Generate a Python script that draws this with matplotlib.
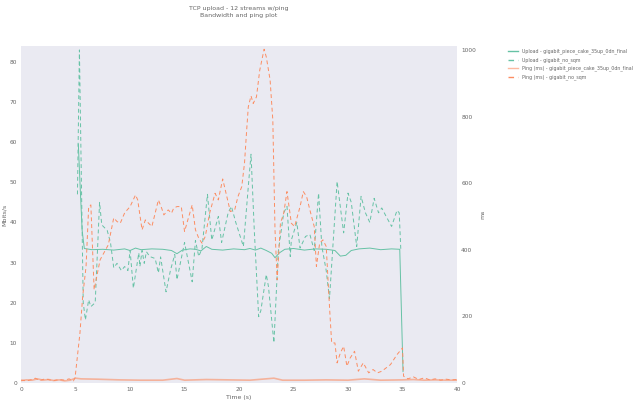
import numpy as np
import matplotlib
matplotlib.use('Agg')
import matplotlib.pyplot as plt

# upload, gigabit_piece_cake_35up_0dn_final (Mbits/s)
up_sqm_t = [5.25, 5.4, 5.6, 5.8, 6.5, 7.5, 8.5, 9.5, 10.0, 10.5, 11.0, 12.0, 13.0, 13.8, 14.3, 14.8,
            15.5, 16.0, 16.5, 17.0, 17.5, 18.5, 19.5, 20.5, 21.0, 21.5, 22.0, 22.5, 23.0, 23.3, 23.7,
            24.2, 25.0, 26.0, 27.0, 28.0, 28.8, 29.3, 29.8, 30.3, 31.0, 32.0, 33.0, 34.0, 34.75, 35.05]
up_sqm = [59.5, 50, 38, 33.5, 33.2, 33.3, 33.1, 33.4, 33.0, 33.6, 33.2, 33.4, 33.3, 33.0, 32.2, 33.1,
          33.4, 33.3, 32.9, 34.0, 33.3, 33.1, 33.4, 33.2, 33.5, 33.1, 33.6, 33.0, 32.3, 31.2, 32.4,
          33.3, 33.5, 33.1, 33.4, 33.3, 33.0, 31.6, 31.8, 33.0, 33.4, 33.6, 33.2, 33.4, 33.3, 2.8]

# upload, gigabit_no_sqm (Mbits/s)
up_nosqm_t = [5.17, 5.35, 5.7, 5.9, 6.2, 6.4, 6.8, 7.2, 7.4, 7.9, 8.2, 8.5, 8.8, 9.2, 9.5, 9.8, 10.0,
              10.3, 10.8, 10.9, 11.1, 11.3, 11.5, 11.8, 12.3, 12.6, 12.8, 13.3, 13.7, 14.1, 14.3, 15.0,
              15.7, 16.0, 16.3, 16.6, 17.1, 17.5, 18.1, 18.4, 19.0, 19.3, 19.7, 20.4, 20.9, 21.1, 21.4,
              21.8, 22.0, 22.5, 22.7, 23.2, 23.6, 24.1, 24.4, 24.7, 24.8, 25.3, 25.6, 26.1, 26.5, 26.9,
              27.3, 27.6, 28.0, 28.3, 29.0, 29.6, 30.0, 30.3, 30.8, 31.2, 31.6, 32.0, 32.4, 32.8, 33.1,
              33.5, 34.0, 34.5, 34.7, 34.85]
up_nosqm = [47, 83, 20, 15.7, 20.7, 19, 20, 45, 39.4, 38, 35, 28.7, 29.8, 28, 29, 28, 33,
            23.6, 32.4, 29, 33, 29.8, 32.7, 31.5, 31, 27.4, 31.4, 22.7, 28, 32, 25.7, 35,
            25.2, 35.5, 31.5, 33.5, 47, 35.6, 41.5, 35, 42.4, 44, 40, 34, 50.6, 57, 38,
            16.5, 18, 27, 24, 10, 32.7, 42.4, 44, 31.5, 35.6, 40, 33.6, 36.5, 37, 33,
            47.3, 34, 28, 21, 50.2, 37.4, 47.3, 45, 34, 46.5, 42.4, 40, 46, 42.4, 43.6,
            41.5, 39, 43, 42.4, 33]

# ping, gigabit_piece_cake_35up_0dn_final (ms)
ping_sqm_t = [0, 0.5, 1.0, 1.5, 2.0, 2.5, 3.0, 3.5, 4.0, 4.5, 5.0, 5.5, 7, 9, 11, 13, 14.3, 15, 17,
              19, 21, 23.2, 24, 26, 28, 30, 31.5, 33, 35, 36, 37, 38, 39, 40]
ping_sqm = [7, 9, 8, 12, 8, 10, 7, 9, 6, 8, 14, 12, 11, 9, 8, 8, 13, 8, 10,
            9, 8, 14, 8, 8, 9, 8, 12, 8, 9, 10, 8, 9, 8, 8]

# ping, gigabit_no_sqm (ms)
ping_nosqm_t = [0, 0.5, 1.0, 1.3, 1.7, 2.2, 2.6, 3.0, 3.5, 4.0, 4.4, 4.8, 4.95, 5.4, 5.65, 5.96, 6.2,
                6.4, 6.7, 7.25, 8.0, 8.5, 8.8, 9.1, 9.5, 10.0, 10.5, 10.7, 11.1, 11.4, 11.7, 12.0,
                12.6, 12.9, 13.1, 13.5, 13.8, 14.0, 14.3, 14.7, 15.0, 15.3, 15.7, 16.0, 16.3, 16.6,
                16.9, 17.3, 17.8, 18.1, 18.5, 19.2, 19.6, 19.9, 20.25, 20.5, 20.7, 20.85, 21.1, 21.3,
                21.6, 21.9, 22.3, 22.5, 22.85, 23.1, 23.3, 23.5, 23.8, 24.1, 24.4, 24.8, 25.1, 25.6,
                25.9, 26.2, 26.5, 26.9, 27.1, 27.4, 27.7, 28.0, 28.3, 28.5, 28.8, 29.0, 29.3, 29.6,
                29.9, 30.2, 30.6, 30.95, 31.4, 31.9, 32.3, 32.7, 33.1, 33.9, 34.5, 35.0, 35.1, 35.5,
                36.0, 36.5, 37.0, 37.5, 38.0, 38.5, 39.0, 39.5, 40.0]
ping_nosqm = [8, 6, 10, 14, 7, 12, 9, 7, 10, 8, 12, 6, 15, 150, 260, 350, 530,
              535, 280, 370, 415, 496, 485, 480, 511, 530, 565, 550, 460, 490, 480, 470,
              550, 525, 505, 520, 510, 525, 530, 530, 455, 490, 535, 460, 435, 420,
              440, 510, 570, 550, 613, 515, 520, 560, 590, 660, 760, 830, 863, 840,
              860, 940, 1003, 980, 911, 790, 460, 310, 480, 510, 575, 480, 470, 530,
              575, 560, 520, 470, 350, 420, 430, 410, 230, 120, 120, 60, 90, 110,
              50, 75, 95, 35, 60, 30, 40, 30, 35, 55, 85, 105, 20, 12,
              18, 10, 15, 9, 12, 8, 11, 9, 10]

green = '#66c2a5'
orange = '#fc8d62'
txt = '#666666'

plt.rcParams['font.family'] = 'DejaVu Sans'
fig = plt.figure(figsize=(6.4, 4.03), dpi=100)
ax1 = fig.add_axes([0.033, 0.05, 0.681, 0.836])
ax1.set_facecolor('#eaeaf2')
ax2 = ax1.twinx()

dash = (4, 3)
l1, = ax1.plot(up_sqm_t, up_sqm, color=green, lw=0.7,
               label='Upload - gigabit_piece_cake_35up_0dn_final')
l2, = ax1.plot(up_nosqm_t, up_nosqm, color=green, lw=0.7, ls=(0, dash),
               label='Upload - gigabit_no_sqm')
l3, = ax2.plot(ping_sqm_t, ping_sqm, color=orange, lw=1.2, alpha=0.6,
               label='Ping (ms) - gigabit_piece_cake_35up_0dn_final')
l4, = ax2.plot(ping_nosqm_t, ping_nosqm, color=orange, lw=0.7, ls=(0, dash),
               label='Ping (ms) - gigabit_no_sqm')

ax1.set_xlim(0, 40)
ax1.set_ylim(0, 84)
ax2.set_ylim(0, 1013)
ax1.set_xticks(range(0, 41, 5))
ax1.set_yticks(range(0, 81, 10))
ax2.set_yticks(range(0, 1001, 200))

for a in (ax1, ax2):
    for s in a.spines.values():
        s.set_visible(False)
    a.tick_params(length=0, labelsize=4.2, colors=txt, pad=3)

ax1.set_xlabel('Time (s)', fontsize=4.5, color=txt, labelpad=2)
ax1.set_ylabel('Mbits/s', fontsize=4.5, color=txt, labelpad=1.5)
ax2.set_ylabel('ms', fontsize=4.5, color=txt, labelpad=3)

ax1.set_title('TCP upload - 12 streams w/ping\nBandwidth and ping plot',
              fontsize=4.5, color=txt, pad=21, linespacing=1.55)

leg = fig.legend(handles=[l1, l2, l3, l4], loc='upper left', bbox_to_anchor=(0.791, 0.884),
                 frameon=False, fontsize=3.45, labelcolor=txt, handlelength=2.0,
                 handletextpad=0.8, borderaxespad=0, labelspacing=0.6)
for h in leg.get_lines():
    h.set_linewidth(1.0)

fig.savefig('out.png', dpi=100)
